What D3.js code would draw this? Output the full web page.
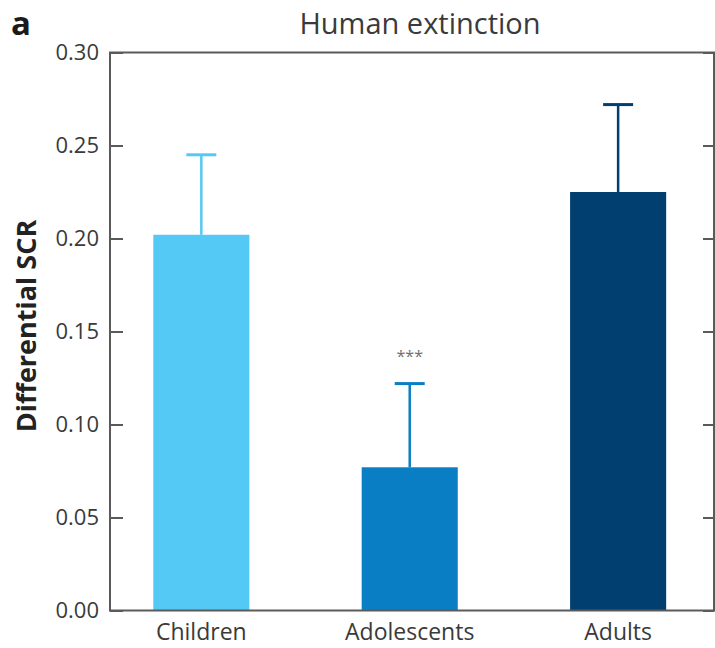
<!DOCTYPE html>
<html>
<head>
<meta charset="utf-8">
<script src="https://cdn.jsdelivr.net/npm/d3@7"></script>
<style>
  html, body { margin: 0; padding: 0; background: #fff; }
  svg { display: block; }
  text { font-family: "Open Sans", "Noto Sans", sans-serif; }
</style>
</head>
<body>
<svg id="chart" width="715" height="648"></svg>
<script>
// Differential skin conductance response by age group
const groups = ["Children", "Adolescents", "Adults"];
const means = [0.202, 0.077, 0.225];
const upperErr = [0.245, 0.122, 0.272];
const colors = ["#55c9f5", "#0a7ec4", "#003f6f"];
const yTicks = [0.00, 0.05, 0.10, 0.15, 0.20, 0.25, 0.30];
const marks = ["", "***", ""];

const svg = d3.select("#chart");
const plotLeft = 110, plotRight = 714, plotTop = 52.5, plotBottom = 610.5;

const x = d3.scaleBand()
  .domain(groups)
  .range([plotLeft, plotRight])
  .paddingInner(0.539)
  .paddingOuter(0.2186)
  .align(0.475);

const y = d3.scaleLinear().domain([0, 0.30]).range([plotBottom, plotTop]);

const frameColor = "#5a5a5a";
const textColor = "#3a3a3a";

// bars
svg.append("g").selectAll("rect")
  .data(groups)
  .join("rect")
  .attr("x", d => x(d))
  .attr("width", x.bandwidth())
  .attr("y", (d, i) => y(means[i]))
  .attr("height", (d, i) => y(0) - y(means[i]))
  .attr("fill", (d, i) => colors[i]);

// upper error whiskers
const eb = svg.append("g");
groups.forEach((g, i) => {
  const cx = x(g) + x.bandwidth() / 2;
  eb.append("line")
    .attr("x1", cx).attr("x2", cx)
    .attr("y1", y(means[i])).attr("y2", y(upperErr[i]))
    .attr("stroke", colors[i]).attr("stroke-width", 2.5);
  eb.append("line")
    .attr("x1", cx - 15).attr("x2", cx + 15)
    .attr("y1", y(upperErr[i])).attr("y2", y(upperErr[i]))
    .attr("stroke", colors[i]).attr("stroke-width", 3);
  if (marks[i]) {
    eb.append("text")
      .attr("x", cx).attr("y", y(upperErr[i]) - 22)
      .attr("text-anchor", "middle")
      .attr("font-size", 16)
      .attr("fill", "#707070")
      .text(marks[i]);
  }
});

// frame
svg.append("rect")
  .attr("x", plotLeft).attr("y", plotTop)
  .attr("width", plotRight - plotLeft).attr("height", plotBottom - plotTop)
  .attr("fill", "none")
  .attr("stroke", frameColor).attr("stroke-width", 2);

// left axis with inward ticks
const yAxisL = svg.append("g")
  .attr("transform", `translate(${plotLeft},0)`)
  .call(d3.axisLeft(y).tickValues(yTicks).tickFormat(d3.format(".2f")).tickSizeInner(-13).tickSizeOuter(0).tickPadding(11));
yAxisL.select(".domain").remove();
yAxisL.selectAll(".tick line").attr("stroke", frameColor).attr("stroke-width", 2);
yAxisL.selectAll(".tick text")
  .attr("font-size", 22)
  .attr("fill", textColor)
  .attr("font-family", "'Open Sans', sans-serif");

// right axis, ticks only
const yAxisR = svg.append("g")
  .attr("transform", `translate(${plotRight},0)`)
  .call(d3.axisRight(y).tickValues(yTicks).tickFormat("").tickSizeInner(-11).tickSizeOuter(0));
yAxisR.select(".domain").remove();
yAxisR.selectAll(".tick line").attr("stroke", frameColor).attr("stroke-width", 2);

// category labels
const xAxis = svg.append("g")
  .attr("transform", `translate(0,${plotBottom})`)
  .call(d3.axisBottom(x).tickSize(0).tickPadding(13));
xAxis.select(".domain").remove();
xAxis.selectAll(".tick text")
  .attr("font-size", 23)
  .attr("fill", textColor)
  .attr("font-family", "'Open Sans', sans-serif");

// title
svg.append("text")
  .attr("x", 420)
  .attr("y", 34)
  .attr("text-anchor", "middle")
  .attr("font-size", 29)
  .attr("fill", textColor)
  .text("Human extinction");

// y axis title
svg.append("text")
  .attr("transform", `translate(36,326) rotate(-90)`)
  .attr("text-anchor", "middle")
  .attr("font-size", 27)
  .attr("font-weight", "bold")
  .attr("fill", "#222")
  .text("Differential SCR");

// panel letter
svg.append("text")
  .attr("x", 11)
  .attr("y", 35)
  .attr("font-size", 33)
  .attr("font-weight", "bold")
  .attr("fill", "#1a1a1a")
  .text("a");
</script>
</body>
</html>
